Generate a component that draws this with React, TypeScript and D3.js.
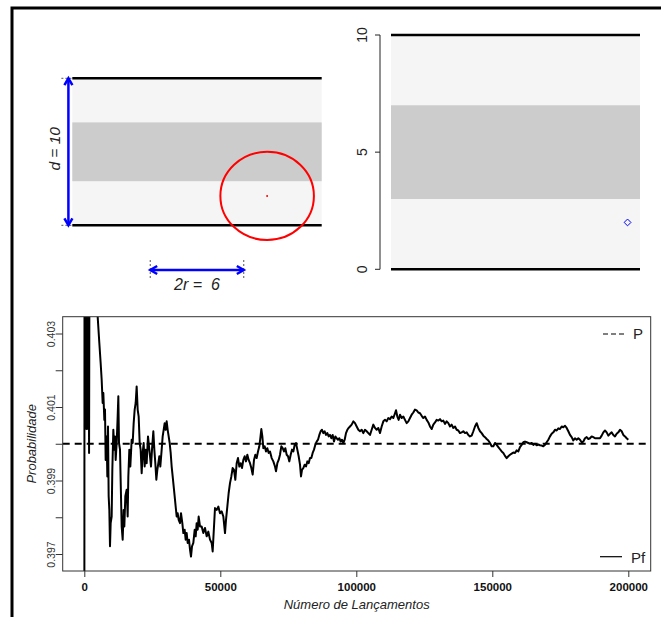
import React, { useEffect, useRef } from "react";
import * as d3 from "d3";

// ---- top panels (units of the strip) ----
const stripLimits = [0, 10];
const shadedBand = [3, 7];
const needleCentre = [12.5, 2];
const needleRadius = 3;
const widthArrow = [5, 11];
const rightPoint = [15.2, 2];
const rightTicks = [0, 5, 10];

// ---- bottom chart ----
const xTicks = [0, 50000, 100000, 150000, 200000];
const yTicks = [0.397, 0.398, 0.399, 0.4, 0.401, 0.402, 0.403];
const yLabelled = [0.397, 0.399, 0.401, 0.403];
const trueP = 0.4;

// Pf: estimated frequency after n tosses
const pfSeries: [number, number][] = [
  [0, 0.39], [100, 0.41], [250, 0.4004], [400, 0.409], [550, 0.4005], [700, 0.408],
  [850, 0.4004], [1000, 0.407], [1150, 0.4006], [1300, 0.406], [1450, 0.4004],
  [1600, 0.4055], [1750, 0.39975], [1900, 0.405], [2500, 0.406], [3500, 0.4055],
  [4400, 0.405], [4914, 0.40346], [5527, 0.40274], [6017, 0.40219], [6385, 0.40174],
  [6752, 0.40111], [6998, 0.40138], [7365, 0.40065], [7610, 0.40093], [7855, 0.39956],
  [8223, 0.4002], [8468, 0.39911], [8713, 0.40047], [8958, 0.39857], [9203, 0.3982],
  [9449, 0.39721], [9694, 0.39784], [10061, 0.39802], [10306, 0.39929], [10674, 0.40038],
  [11041, 0.39984], [11287, 0.4002], [11532, 0.39956], [11900, 0.40002], [12267, 0.40074],
  [12512, 0.40129], [12757, 0.40002], [13125, 0.39984], [13493, 0.39857], [13738, 0.39775],
  [14105, 0.39739], [14473, 0.3982], [14718, 0.39775], [15086, 0.39857], [15576, 0.39875],
  [15944, 0.39802], [16189, 0.39911], [16556, 0.39984], [16924, 0.39938], [17414, 0.40011],
  [17782, 0.40002], [18150, 0.40056], [18517, 0.40093], [18885, 0.40111], [19253, 0.40156],
  [19620, 0.40093], [19988, 0.40074], [20355, 0.40002], [20723, 0.39984], [21091, 0.3992],
  [21458, 0.39975], [21826, 0.40002], [22194, 0.39938], [22561, 0.39984], [22929, 0.39947],
  [23419, 0.4002], [23787, 0.39993], [24155, 0.39966], [24522, 0.39938], [24890, 0.39984],
  [25380, 0.40034], [25748, 0.39984], [26115, 0.39947], [26483, 0.39902], [26851, 0.39929],
  [27218, 0.39947], [27586, 0.39966], [27954, 0.39938], [28444, 0.39984], [28811, 0.4002],
  [29179, 0.40038], [29547, 0.40056], [29914, 0.40038], [30282, 0.40061], [30650, 0.40038],
  [31017, 0.4002], [31385, 0.40002], [31753, 0.39975], [32120, 0.39938], [32488, 0.39911],
  [32856, 0.39884], [33223, 0.39857], [33591, 0.39829], [33959, 0.39802], [34326, 0.39811],
  [34694, 0.39793], [35184, 0.39784], [35552, 0.39811], [36042, 0.39784], [36410, 0.39757],
  [36900, 0.39766], [37267, 0.39739], [37635, 0.39757], [38003, 0.3973], [38493, 0.39739],
  [38861, 0.39712], [39228, 0.39693], [39596, 0.39721], [40086, 0.3973], [40576, 0.39766],
  [40944, 0.39748], [41312, 0.39784], [41679, 0.39766], [42047, 0.39802], [42537, 0.39775],
  [43150, 0.39775], [43763, 0.39757], [44375, 0.39771], [44988, 0.39748], [45601, 0.39761],
  [46214, 0.39739], [46826, 0.3973], [47194, 0.39707], [47684, 0.39775], [48052, 0.39825],
  [48665, 0.3982], [49277, 0.39829], [49890, 0.39811], [50503, 0.39816], [51116, 0.39802],
  [51728, 0.39757], [52096, 0.39793], [52586, 0.39829], [53076, 0.39866], [53567, 0.39893],
  [54057, 0.39911], [54547, 0.39934], [55037, 0.39929], [55527, 0.39902], [56018, 0.39947],
  [56508, 0.39961], [56998, 0.39938], [57488, 0.39947], [57978, 0.39934], [58469, 0.39956],
  [58959, 0.39966], [59449, 0.39952], [59939, 0.3997], [60429, 0.39956], [60920, 0.39947],
  [61410, 0.39934], [61900, 0.39916], [62390, 0.39956], [62880, 0.3997], [63371, 0.39961],
  [63861, 0.39979], [64351, 0.39993], [64719, 0.40015], [65087, 0.4004], [65454, 0.4002],
  [65822, 0.39988], [66312, 0.39993], [66802, 0.39979], [67292, 0.39988], [67782, 0.39975],
  [68273, 0.39979], [68885, 0.39961], [69498, 0.39952], [70111, 0.39938], [70478, 0.39925],
  [70969, 0.39947], [71459, 0.39956], [71949, 0.3997], [72439, 0.39993], [72929, 0.39988],
  [73420, 0.39979], [73910, 0.39988], [74400, 0.3997], [74890, 0.39966], [75380, 0.39952],
  [75871, 0.3997], [76361, 0.39984], [76851, 0.39979], [77341, 0.39997], [77831, 0.40002],
  [78322, 0.39984], [78812, 0.39966], [79302, 0.39943], [79670, 0.39911], [80038, 0.39929],
  [80528, 0.39934], [81018, 0.39943], [81508, 0.39938], [81998, 0.39952], [82489, 0.39947],
  [82979, 0.39961], [83469, 0.39961], [83959, 0.39975], [84449, 0.39984], [84940, 0.39997],
  [85430, 0.40006], [85920, 0.40011], [86410, 0.40024], [86900, 0.40034], [87390, 0.40038],
  [87881, 0.40029], [88371, 0.40034], [88861, 0.40024], [89351, 0.40029], [89841, 0.4002],
  [90332, 0.40024], [90822, 0.40015], [91312, 0.40024], [91802, 0.40006], [92292, 0.4002],
  [92783, 0.40015], [93273, 0.40011], [93763, 0.40015], [94253, 0.40006], [94743, 0.40011],
  [95234, 0.40002], [95724, 0.40011], [96214, 0.40029], [96704, 0.40038], [97194, 0.40043],
  [97685, 0.40047], [98297, 0.40052], [98910, 0.40061], [99523, 0.40056], [100136, 0.40047],
  [100748, 0.40038], [101361, 0.40034], [101974, 0.40038], [102587, 0.40029], [103199, 0.40038],
  [103812, 0.40034], [104425, 0.40029], [105038, 0.40024], [105650, 0.40038], [106263, 0.40052],
  [106876, 0.40043], [107489, 0.40038], [108101, 0.40043], [108714, 0.40029], [109327, 0.40047],
  [109940, 0.40061], [110552, 0.40065], [111165, 0.40061], [111778, 0.4007], [112391, 0.40067],
  [113003, 0.40074], [113616, 0.4007], [114229, 0.40083], [114596, 0.40091], [115087, 0.40074],
  [115577, 0.40065], [116067, 0.40079], [116680, 0.4007], [117292, 0.40074], [117905, 0.40065],
  [118518, 0.40056], [119131, 0.40061], [119743, 0.4007], [120356, 0.40079], [120969, 0.40085],
  [121582, 0.40093], [122194, 0.40091], [122807, 0.40085], [123420, 0.40083], [124033, 0.40076],
  [124645, 0.4007], [125258, 0.40074], [125871, 0.40065], [126484, 0.40058], [127096, 0.40047],
  [127709, 0.4004], [128322, 0.40052], [128935, 0.40058], [129547, 0.40065], [130160, 0.40063],
  [130773, 0.40067], [131386, 0.40061], [131998, 0.40063], [132611, 0.40054], [133224, 0.40061],
  [133837, 0.40056], [134449, 0.40047], [135062, 0.40052], [135675, 0.40043], [136288, 0.40047],
  [136900, 0.40038], [137513, 0.40036], [138126, 0.40029], [138739, 0.40031], [139351, 0.40034],
  [139964, 0.40029], [140577, 0.40031], [141190, 0.40024], [141802, 0.4002], [142415, 0.40022],
  [143028, 0.40034], [143641, 0.40047], [144253, 0.40056], [144866, 0.40043], [145479, 0.40034],
  [146092, 0.40029], [146704, 0.40022], [147317, 0.40018], [147930, 0.40013], [148543, 0.40009],
  [149155, 0.40002], [149768, 0.39993], [150381, 0.39993], [150992, 0.40002], [151605, 0.39997],
  [152217, 0.39991], [152830, 0.39985], [153443, 0.39979], [154056, 0.39975], [154668, 0.39967],
  [155281, 0.39961], [155894, 0.39966], [156507, 0.3997], [157119, 0.39973], [157732, 0.39976],
  [158345, 0.39975], [158958, 0.39982], [159570, 0.39979], [160183, 0.39991], [160796, 0.39997],
  [161409, 0.40004], [162021, 0.40006], [162634, 0.40004], [163247, 0.40002], [163860, 0.4],
  [164472, 0.40002], [165085, 0.39997], [165698, 0.4], [166311, 0.39996], [166923, 0.39998],
  [167536, 0.39996], [168149, 0.39995], [168762, 0.39993], [169374, 0.39997], [169987, 0.40004],
  [170600, 0.40011], [171213, 0.4002], [171825, 0.40027], [172438, 0.40031], [173051, 0.40038],
  [173664, 0.40036], [174276, 0.40042], [174889, 0.4004], [175502, 0.40047], [176115, 0.40045],
  [176727, 0.40049], [177340, 0.40043], [177953, 0.40034], [178566, 0.40024], [179178, 0.40018],
  [179791, 0.40009], [180404, 0.40015], [181017, 0.40011], [181629, 0.40015], [182242, 0.40011],
  [182855, 0.40004], [183468, 0.40006], [184080, 0.40015], [184693, 0.40018], [185306, 0.40013],
  [185919, 0.40015], [186531, 0.4002], [187144, 0.40018], [187757, 0.40015], [188370, 0.40015],
  [188982, 0.40015], [189595, 0.40015], [190208, 0.40022], [190821, 0.40031], [191433, 0.40036],
  [192046, 0.40031], [192659, 0.40022], [193272, 0.40027], [193884, 0.40031], [194497, 0.40024],
  [195110, 0.4002], [195723, 0.40027], [196335, 0.40031], [196948, 0.40038], [197561, 0.40034],
  [198174, 0.40024], [198786, 0.4002], [199399, 0.40015], [200000, 0.40011],
];

const FONT = "'Liberation Sans', Arial, sans-serif";

const App = () => {
  const svgRef = useRef<SVGSVGElement>(null);

  useEffect(() => {
    if (!svgRef.current) return;
    const svg = d3.select(svgRef.current);
    svg.selectAll("*").remove();

    // outer frame (open to the right and bottom edges)
    svg.append("path")
      .attr("d", "M12,617 L12,8 L661,8")
      .attr("fill", "none")
      .attr("stroke", "#000")
      .attr("stroke-width", 3);

    // arrow helper (R style open heads)
    const arrowHead = (g: any, x: number, y: number, ang: number) => {
      const len = 8, spread = Math.PI / 6;
      const p1 = [x - len * Math.cos(ang - spread), y - len * Math.sin(ang - spread)];
      const p2 = [x - len * Math.cos(ang + spread), y - len * Math.sin(ang + spread)];
      g.append("path")
        .attr("d", `M${p1[0]},${p1[1]} L${x},${y} L${p2[0]},${p2[1]}`)
        .attr("fill", "none")
        .attr("stroke", "#0000ff")
        .attr("stroke-width", 2.5);
    };

    // ---------- top-left diagram ----------
    const lx = d3.scaleLinear().domain([0, 16]).range([72.3, 321.7]);
    const ly = d3.scaleLinear().domain(stripLimits).range([225.3, 78.3]);
    const left = svg.append("g");

    left.append("rect")
      .attr("x", lx(0)).attr("y", ly(stripLimits[1]))
      .attr("width", lx(16) - lx(0)).attr("height", ly(stripLimits[0]) - ly(stripLimits[1]))
      .attr("fill", "#f5f5f5");
    left.append("rect")
      .attr("x", lx(0)).attr("y", ly(shadedBand[1]))
      .attr("width", lx(16) - lx(0)).attr("height", ly(shadedBand[0]) - ly(shadedBand[1]))
      .attr("fill", "#cccccc");
    stripLimits.forEach((v) => {
      left.append("line")
        .attr("x1", lx(0)).attr("x2", lx(16)).attr("y1", ly(v)).attr("y2", ly(v))
        .attr("stroke", "#000").attr("stroke-width", 2.5);
      left.append("line")
        .attr("x1", lx(-0.7)).attr("x2", lx(0)).attr("y1", ly(v)).attr("y2", ly(v))
        .attr("stroke", "#555").attr("stroke-width", 1).attr("stroke-dasharray", "2,2");
    });

    // vertical d arrow
    const ax = lx(-0.25);
    left.append("line")
      .attr("x1", ax).attr("x2", ax).attr("y1", ly(10)).attr("y2", ly(0))
      .attr("stroke", "#0000ff").attr("stroke-width", 2.5);
    arrowHead(left, ax, ly(10), -Math.PI / 2);
    arrowHead(left, ax, ly(0), Math.PI / 2);
    left.append("text")
      .attr("transform", `translate(59.5,${ly(5) - 3}) rotate(-90)`)
      .attr("text-anchor", "middle")
      .attr("font-family", FONT).attr("font-style", "italic").attr("font-size", 15.5)
      .attr("fill", "#222")
      .style("white-space", "pre")
      .text("d = 10");

    // needle circle
    left.append("ellipse")
      .attr("cx", lx(needleCentre[0])).attr("cy", ly(needleCentre[1]))
      .attr("rx", lx(needleRadius) - lx(0)).attr("ry", ly(0) - ly(needleRadius))
      .attr("fill", "none").attr("stroke", "#ff0000").attr("stroke-width", 2);
    left.append("circle")
      .attr("cx", lx(needleCentre[0])).attr("cy", ly(needleCentre[1])).attr("r", 1)
      .attr("fill", "#ff0000");

    // horizontal 2r arrow
    const ay = 270;
    widthArrow.forEach((v) => {
      left.append("line")
        .attr("x1", lx(v)).attr("x2", lx(v)).attr("y1", 260).attr("y2", 279)
        .attr("stroke", "#555").attr("stroke-width", 1).attr("stroke-dasharray", "2,2");
    });
    left.append("line")
      .attr("x1", lx(widthArrow[0])).attr("x2", lx(widthArrow[1])).attr("y1", ay).attr("y2", ay)
      .attr("stroke", "#0000ff").attr("stroke-width", 2.5);
    arrowHead(left, lx(widthArrow[0]), ay, Math.PI);
    arrowHead(left, lx(widthArrow[1]), ay, 0);
    left.append("text")
      .attr("x", (lx(widthArrow[0]) + lx(widthArrow[1])) / 2).attr("y", 290)
      .attr("text-anchor", "middle")
      .attr("font-family", FONT).attr("font-style", "italic").attr("font-size", 16)
      .attr("fill", "#222")
      .style("white-space", "pre")
      .text("2r =  6");

    // ---------- top-right panel ----------
    const rx = d3.scaleLinear().domain([0, 16]).range([391, 640]);
    const ry = d3.scaleLinear().domain(stripLimits).range([269.3, 35]);
    const right = svg.append("g");
    right.append("rect")
      .attr("x", rx(0)).attr("y", ry(10))
      .attr("width", rx(16) - rx(0)).attr("height", ry(0) - ry(10))
      .attr("fill", "#f5f5f5");
    right.append("rect")
      .attr("x", rx(0)).attr("y", ry(shadedBand[1]))
      .attr("width", rx(16) - rx(0)).attr("height", ry(shadedBand[0]) - ry(shadedBand[1]))
      .attr("fill", "#cccccc");
    stripLimits.forEach((v) => {
      right.append("line")
        .attr("x1", rx(0)).attr("x2", rx(16)).attr("y1", ry(v)).attr("y2", ry(v))
        .attr("stroke", "#000").attr("stroke-width", 2.5);
    });
    right.append("line")
      .attr("x1", 380).attr("x2", 380).attr("y1", ry(0)).attr("y2", ry(10))
      .attr("stroke", "#222").attr("stroke-width", 1);
    rightTicks.forEach((t) => {
      right.append("line")
        .attr("x1", 375).attr("x2", 380).attr("y1", ry(t)).attr("y2", ry(t))
        .attr("stroke", "#222").attr("stroke-width", 1);
      right.append("text")
        .attr("transform", `translate(367,${ry(t)}) rotate(-90)`)
        .attr("text-anchor", "middle")
        .attr("font-family", FONT).attr("font-size", 14).attr("fill", "#222")
        .text(String(t));
    });
    const px = rx(rightPoint[0]), py = ry(rightPoint[1]);
    right.append("path")
      .attr("d", `M${px},${py - 3.4} L${px + 3.4},${py} L${px},${py + 3.4} L${px - 3.4},${py} Z`)
      .attr("fill", "none").attr("stroke", "#0000ff").attr("stroke-width", 1);

    // ---------- bottom chart ----------
    const box = { left: 62.7, right: 650.7, top: 316.7, bottom: 571 };
    const x = d3.scaleLinear().domain([0, 200000]).range([84.3, 628.3]);
    const y = d3.scaleLinear().domain([0.397, 0.403]).range([554, 333.5]);
    const chart = svg.append("g");

    chart.append("clipPath").attr("id", "plotclip")
      .append("rect")
      .attr("x", box.left).attr("y", box.top)
      .attr("width", box.right - box.left).attr("height", box.bottom - box.top);

    chart.append("line")
      .attr("x1", box.left).attr("x2", box.right).attr("y1", y(trueP)).attr("y2", y(trueP))
      .attr("stroke", "#000").attr("stroke-width", 2).attr("stroke-dasharray", "7,5");

    const line = d3.line<[number, number]>().x((d) => x(d[0])).y((d) => y(d[1]));
    chart.append("path")
      .datum(pfSeries)
      .attr("clip-path", "url(#plotclip)")
      .attr("d", line)
      .attr("fill", "none")
      .attr("stroke", "#000")
      .attr("stroke-width", 2)
      .attr("stroke-linejoin", "round");

    chart.append("rect")
      .attr("x", box.left).attr("y", box.top)
      .attr("width", box.right - box.left).attr("height", box.bottom - box.top)
      .attr("fill", "none").attr("stroke", "#333").attr("stroke-width", 1);

    // x axis
    const xAxis = chart.append("g")
      .attr("transform", `translate(0,${box.bottom})`)
      .call(d3.axisBottom(x).tickValues(xTicks).tickSize(6).tickFormat(d3.format("d")));
    xAxis.select(".domain").remove();
    xAxis.selectAll("line").attr("stroke", "#333");
    xAxis.selectAll("text")
      .attr("y", 19.5).attr("dy", null)
      .attr("font-family", FONT).attr("font-size", 11.5).attr("font-weight", "bold")
      .attr("fill", "#111");

    // y axis
    const yAxis = chart.append("g")
      .attr("transform", `translate(${box.left},0)`)
      .call(d3.axisLeft(y).tickValues(yTicks).tickSize(7)
        .tickFormat((d) => (yLabelled.some((v) => Math.abs(v - (d as number)) < 1e-9) ? d3.format(".3f")(d as number) : "")));
    yAxis.select(".domain").remove();
    yAxis.selectAll("line").attr("stroke", "#333");
    yAxis.selectAll("text")
      .attr("x", null).attr("dy", null)
      .attr("transform", "translate(-8,0) rotate(-90)")
      .attr("text-anchor", "middle")
      .attr("font-family", FONT).attr("font-size", 10.5)
      .attr("fill", "#333");

    // axis titles
    chart.append("text")
      .attr("transform", `translate(36,${(box.top + box.bottom) / 2}) rotate(-90)`)
      .attr("text-anchor", "middle")
      .attr("font-family", FONT).attr("font-style", "italic").attr("font-size", 13)
      .attr("fill", "#222")
      .text("Probabilidade");
    chart.append("text")
      .attr("x", (box.left + box.right) / 2).attr("y", 608.5)
      .attr("text-anchor", "middle")
      .attr("font-family", FONT).attr("font-style", "italic").attr("font-size", 13)
      .attr("fill", "#222")
      .text("Número de Lançamentos");

    // legends
    chart.append("line")
      .attr("x1", 603).attr("x2", 625).attr("y1", 334).attr("y2", 334)
      .attr("stroke", "#000").attr("stroke-width", 1.2).attr("stroke-dasharray", "5,3");
    chart.append("text")
      .attr("x", 633).attr("y", 339)
      .attr("font-family", FONT).attr("font-size", 15).attr("fill", "#222")
      .text("P");
    chart.append("line")
      .attr("x1", 600).attr("x2", 622).attr("y1", 556.7).attr("y2", 556.7)
      .attr("stroke", "#000").attr("stroke-width", 1.2);
    chart.append("text")
      .attr("x", 631).attr("y", 563.3)
      .attr("font-family", FONT).attr("font-size", 15).attr("fill", "#222")
      .text("Pf");
  }, []);

  return (
    <div style={{ position: "absolute", left: 0, top: 0 }}>
      <svg ref={svgRef} width={661} height={617} style={{ display: "block", background: "#fff" }}></svg>
    </div>
  );
};

export default App;
